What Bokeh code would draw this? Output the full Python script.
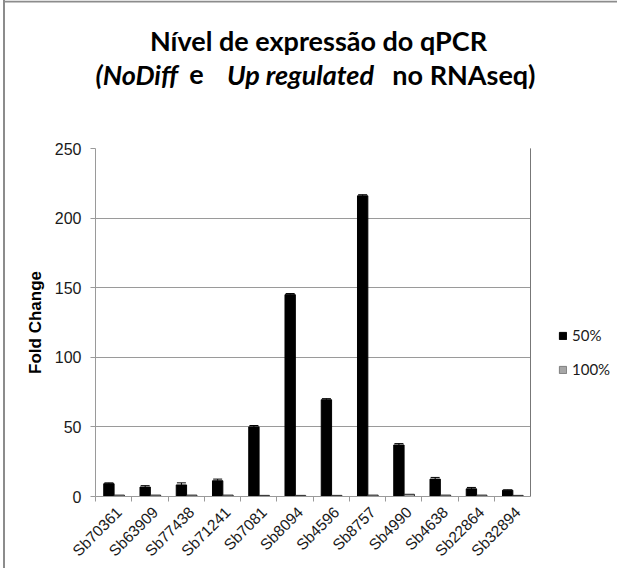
import numpy as np
from math import pi
from bokeh.plotting import figure
from bokeh.layouts import column, row
from bokeh.models import (ColumnDataSource, Range1d, FixedTicker, Legend, LegendItem,
                          Whisker, TeeHead)
from bokeh.core.properties import value
from bokeh.embed import file_html
from bokeh.resources import INLINE

# ---- data ----
genes = ["Sb70361", "Sb63909", "Sb77438", "Sb71241", "Sb7081", "Sb8094",
         "Sb4596", "Sb8757", "Sb4990", "Sb4638", "Sb22864", "Sb32894"]
fc_50 = [9.2, 6.8, 8.3, 11.3, 50.0, 145.0, 69.5, 216.0, 37.0, 12.5, 5.5, 4.5]
err_50 = [0.6, 1.0, 1.5, 1.2, 1.0, 0.8, 0.8, 0.8, 1.0, 1.2, 1.0, 0.3]
fc_100 = [1.0, 1.0, 1.0, 1.0, 0.8, 0.8, 0.8, 1.0, 1.6, 1.0, 1.0, 0.8]
series = ["50%", "100%"]
y_ticks = [0, 50, 100, 150, 200, 250]
title_line1 = "Nível de expressão do qPCR"
title_line2 = ["(NoDiff", "e", "Up regulated", "no RNAseq)"]
title_line2_styles = ["bold italic", "bold", "bold italic", "bold"]
y_label = "Fold Change"

FRAME_COLOR = "#8c8c8c"
C50 = "black"
C100 = "#a6a6a6"
W, H = 617, 568
TH = 140

# ---- title strip (own figure so the text is not clipped) ----
tf = figure(width=W, height=TH, output_backend="svg", toolbar_location=None,
            x_range=Range1d(0, W), y_range=Range1d(TH, 0),
            x_axis_type=None, y_axis_type=None, min_border=0, title=None)
tf.outline_line_color = None
tf.border_fill_alpha = 0
tf.background_fill_alpha = 0
tf.xgrid.visible = False
tf.ygrid.visible = False
tf.segment(x0=[4], y0=[1], x1=[W], y1=[1], line_color=FRAME_COLOR, line_width=2)
tf.text(x=[318], y=[40], text=[title_line1], text_align="center",
        text_baseline="alphabetic", text_font=value("Lato"), text_font_style="bold",
        text_font_size="27px", text_color="black")
xs2 = [95, 196, 300, 535]
al2 = ["left", "center", "center", "right"]
for t, st, xx, al in zip(title_line2, title_line2_styles, xs2, al2):
    tf.text(x=[xx], y=[74], text=[t], text_align=al, text_baseline="alphabetic",
            text_font=value("Lato"), text_font_style=st, text_font_size="27px",
            text_color="black")

# ---- main chart ----
idx = np.arange(len(genes))
upper_50 = [v + e for v, e in zip(fc_50, err_50)]
src = ColumnDataSource(dict(x50=idx + 0.37, x100=idx + 0.655, fc50=fc_50,
                            fc100=fc_100, up50=upper_50))

BT, BB = 8, 68
PW = 530
p = figure(width=PW, height=H - TH, output_backend="svg", toolbar_location=None,
           x_range=Range1d(0, len(genes)), y_range=Range1d(0, 250),
           min_border_left=95, min_border_right=0, min_border_top=BT,
           min_border_bottom=BB, title=None)
p.outline_line_color = None
p.border_fill_alpha = 0

p.vbar(x="x50", top="fc50", width=0.285, source=src, fill_color=C50, line_color="black")
p.vbar(x="x100", top="fc100", width=0.285, source=src, fill_color=C100,
       line_color="#262626")
wh = Whisker(base="x50", lower="fc50", upper="up50", source=src, line_color="black",
             lower_head=None, upper_head=TeeHead(size=9, line_color="black"))
p.add_layout(wh)

p.xgrid.visible = False
p.ygrid.grid_line_color = "#9a9a9a"
p.ygrid.ticker = FixedTicker(ticks=y_ticks)

ya = p.yaxis[0]
ya.ticker = FixedTicker(ticks=y_ticks)
ya.axis_line_color = "#9a9a9a"
ya.major_tick_line_color = "#9a9a9a"
ya.major_tick_out = 5
ya.major_tick_in = 0
ya.minor_tick_line_color = None
ya.major_label_text_font = "Liberation Sans"
ya.major_label_text_font_size = "16px"
ya.major_label_text_color = "#1a1a1a"
ya.major_label_standoff = 9
ya.axis_label = y_label
ya.axis_label_text_font = "Liberation Sans"
ya.axis_label_text_font_style = "bold"
ya.axis_label_text_font_size = "17px"
ya.axis_label_text_color = "black"
ya.axis_label_standoff = 7

xa = p.xaxis[0]
label_pos = [float(i) + 0.65 for i in idx]
xa.ticker = FixedTicker(ticks=label_pos,
                        minor_ticks=[float(i) for i in range(len(genes) + 1)])
xa.major_label_overrides = {c: g for c, g in zip(label_pos, genes)}
xa.axis_line_color = "#9a9a9a"
xa.major_tick_line_color = None
xa.minor_tick_line_color = "#9a9a9a"
xa.minor_tick_out = 5
xa.minor_tick_in = 0
xa.major_label_orientation = pi / 4
xa.major_label_text_font = "Liberation Sans"
xa.major_label_text_font_size = "15.5px"
xa.major_label_text_color = "#1a1a1a"
xa.major_label_standoff = 7

# ---- legend panel (own figure, frame aligned with the chart's frame) ----
lf = figure(width=W - PW, height=H - TH, output_backend="svg", toolbar_location=None,
            x_range=Range1d(0, 1), y_range=Range1d(0, 1),
            x_axis_type=None, y_axis_type=None, min_border_left=0,
            min_border_right=0, min_border_top=BT, min_border_bottom=BB, title=None)
lf.outline_line_color = None
lf.border_fill_alpha = 0
lf.background_fill_alpha = 0
lf.xgrid.visible = False
lf.ygrid.visible = False
l50 = lf.vbar(x=[-10], top=[1], width=0.1, fill_color=C50, line_color="black")
l100 = lf.vbar(x=[-10], top=[1], width=0.1, fill_color=C100, line_color="#7f7f7f")
legend = Legend(items=[LegendItem(label=series[0], renderers=[l50]),
                       LegendItem(label=series[1], renderers=[l100])],
                location=(28, 118), orientation="vertical",
                glyph_width=9, glyph_height=9, label_standoff=5, spacing=16,
                label_height=16, padding=0, margin=0, border_line_color=None,
                background_fill_alpha=0, label_text_font="Lato",
                label_text_font_size="15px", label_text_color="#1a1a1a")
lf.add_layout(legend, "center")

frame_bg = ("linear-gradient(to right, transparent 3px, " + FRAME_COLOR + " 3px, "
            + FRAME_COLOR + " 5px, transparent 5px)")
layout = column(tf, row(p, lf), styles={"background": frame_bg})
open("out.html", "w").write(file_html(layout, INLINE))
